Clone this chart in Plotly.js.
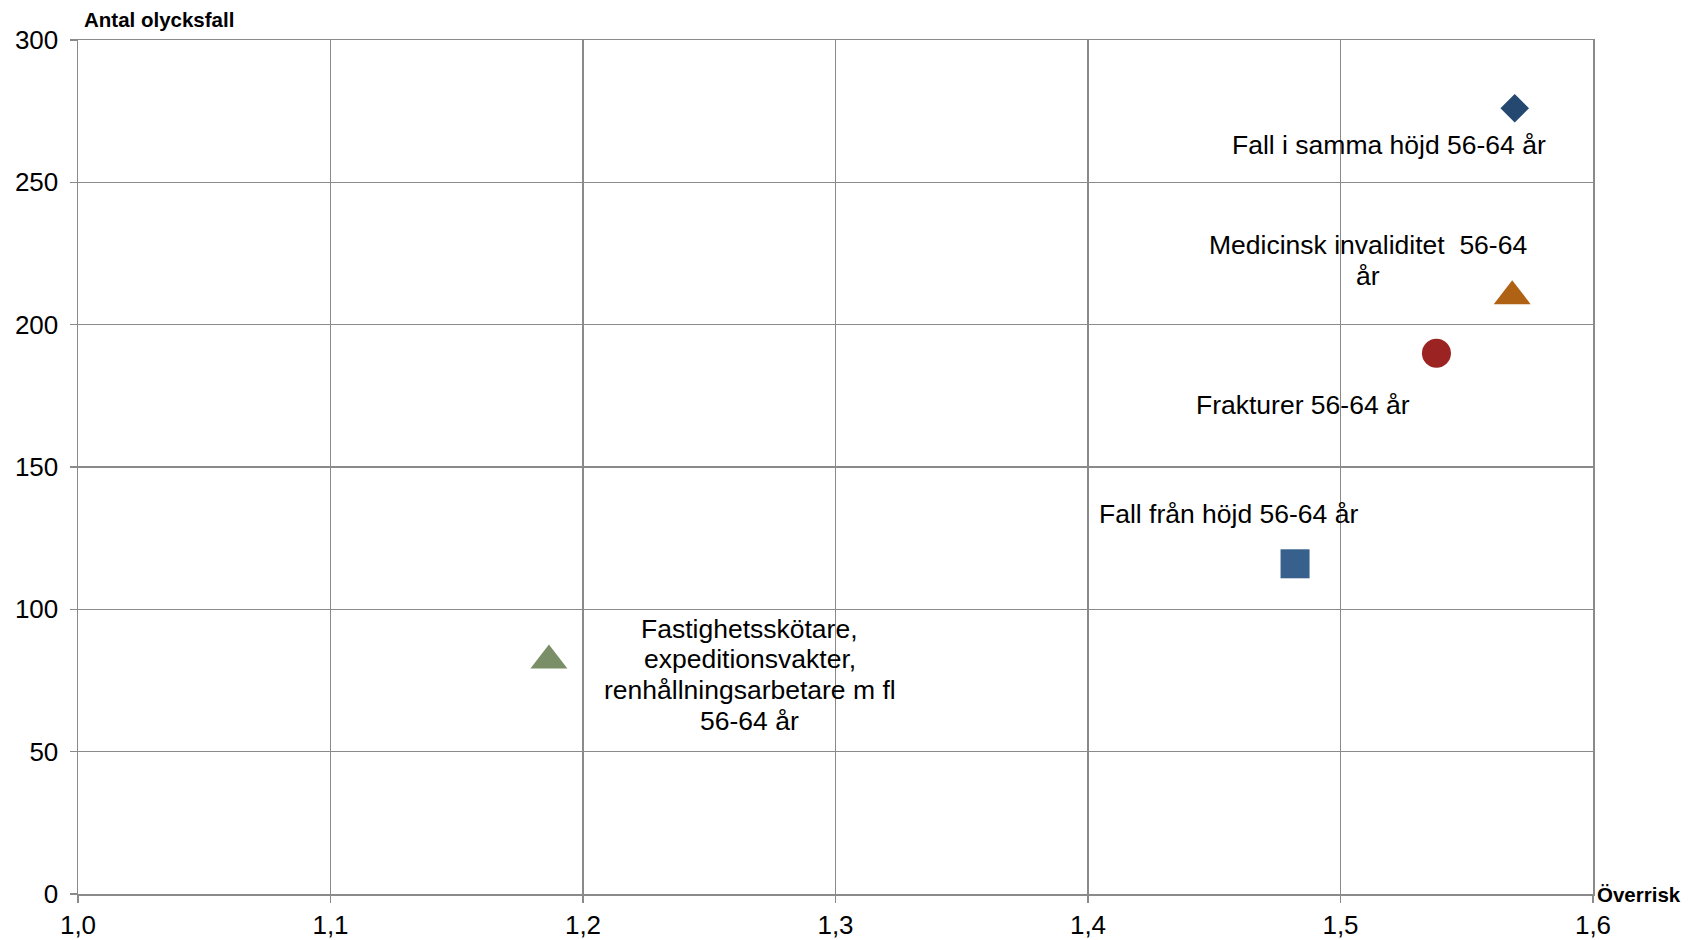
<!DOCTYPE html>
<html>
<head>
<meta charset="utf-8">
<script src="https://cdn.plot.ly/plotly-3.0.1.min.js"></script>
<style>
  html, body { margin: 0; padding: 0; background: #ffffff; }
  #chart { width: 1702px; height: 940px; }
</style>
</head>
<body>
<div id="chart"></div>
<script>
// ---- data ----
const seriesLabels = [
  ["Fall i samma höjd 56-64 år"],
  ["Medicinsk invaliditet \u00a056-64", "år"],
  ["Frakturer 56-64 år"],
  ["Fall från höjd 56-64 år"],
  ["Fastighetsskötare,", "expeditionsvakter,", "renhållningsarbetare m fl", "56-64 år"]
];
const overrisk = [1.569, 1.568, 1.538, 1.482, 1.1865];
const antalOlycksfall = [276, 210, 190, 116, 82];

const xTickVals = [1.0, 1.1, 1.2, 1.3, 1.4, 1.5, 1.6];
const yTickVals = [0, 50, 100, 150, 200, 250, 300];

// ---- styles ----
const symbols = ["diamond", "triangle-up", "circle", "square", "triangle-up"];
const colors = ["#244870", "#B06214", "#9B2423", "#37608C", "#7A8E68"];
const sizes = [22, 32, 29, 29, 32];
const labelXShift = [-126, -144, -133, -67, 201];
const labelYShift = [-37, 36, -52, 50, -14];   // shift of the label block centre
const LINE_GAP = 30.7;

const FONT = "Liberation Sans, Arial, Helvetica, sans-serif";
const GRID = "#8a8a8a";

const traces = overrisk.map((x, i) => ({
  type: "scatter",
  mode: "markers",
  x: [x],
  y: [antalOlycksfall[i]],
  name: seriesLabels[i].join(" "),
  marker: { symbol: symbols[i], color: colors[i], size: sizes[i], line: { width: 0 } },
  cliponaxis: false,
  hoverinfo: "x+y"
}));

const annotations = [];
overrisk.forEach((x, i) => {
  const lines = seriesLabels[i];
  const n = lines.length;
  lines.forEach((ln, k) => {
    annotations.push({
      x: x, y: antalOlycksfall[i], xref: "x", yref: "y",
      text: ln, showarrow: false,
      xshift: labelXShift[i],
      yshift: labelYShift[i] + ((n - 1) / 2 - k) * LINE_GAP,
      xanchor: "center", yanchor: "middle", align: "center",
      font: { family: FONT, size: 26.5, color: "#000000" }
    });
  });
});

annotations.push({
  x: 0, y: 1, xref: "paper", yref: "paper",
  text: "<b>Antal olycksfall</b>", showarrow: false,
  xanchor: "left", yanchor: "middle", xshift: 4, yshift: 21,
  font: { family: FONT, size: 20.5, color: "#000000" }
});
annotations.push({
  x: 1, y: 0, xref: "paper", yref: "paper",
  text: "<b>Överrisk</b>", showarrow: false,
  xanchor: "left", yanchor: "middle", xshift: 2, yshift: 0,
  font: { family: FONT, size: 20.5, color: "#000000" }
});

const layout = {
  width: 1702,
  height: 940,
  margin: { l: 78, r: 109, t: 40, b: 46, pad: 0 },
  paper_bgcolor: "#ffffff",
  plot_bgcolor: "#ffffff",
  showlegend: false,
  separators: ",.",
  font: { family: FONT, size: 26, color: "#000000" },
  xaxis: {
    range: [1.0, 1.6],
    tickvals: xTickVals,
    tickformat: ".1f",
    showgrid: true, gridcolor: GRID, gridwidth: 1.5,
    showline: true, linecolor: GRID, linewidth: 1.5, mirror: true,
    zeroline: false,
    ticks: "outside", ticklen: 7, tickwidth: 1.5, tickcolor: GRID,
    ticklabelstandoff: 0,
    tickfont: { family: FONT, size: 26, color: "#000000" },
    fixedrange: true
  },
  yaxis: {
    range: [0, 300],
    tickvals: yTickVals,
    showgrid: true, gridcolor: GRID, gridwidth: 1.5,
    showline: true, linecolor: GRID, linewidth: 1.5, mirror: true,
    zeroline: false,
    ticks: "outside", ticklen: 7, tickwidth: 1.5, tickcolor: GRID,
    ticklabelstandoff: 6,
    tickfont: { family: FONT, size: 26, color: "#000000" },
    fixedrange: true
  },
  annotations: annotations
};

Plotly.newPlot("chart", traces, layout, { displayModeBar: false, staticPlot: true });
</script>
</body>
</html>
